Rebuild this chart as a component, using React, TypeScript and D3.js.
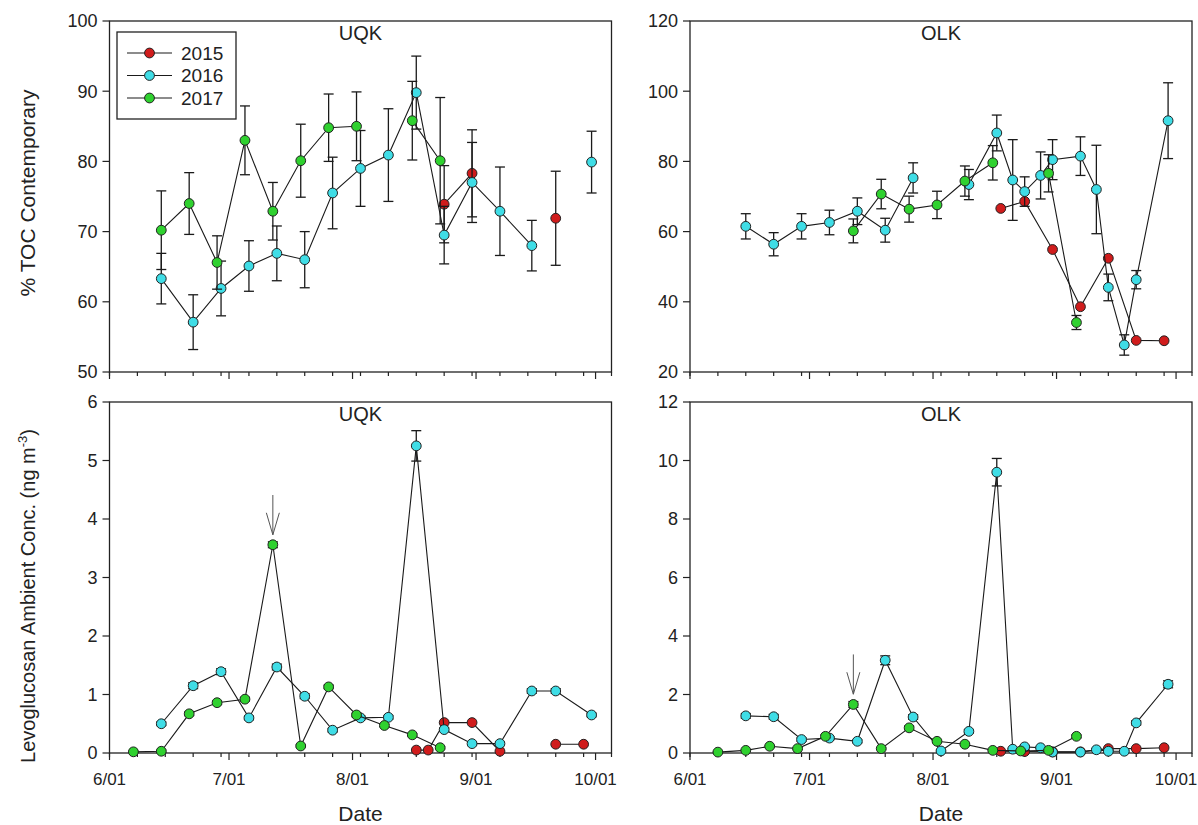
import React, { useEffect, useRef } from 'react';
import * as d3 from 'd3';

// values; dates are month/day of each sample, null = no sample
const years = ['2015', '2016', '2017'];
const monthTicks = ['6/01', '7/01', '8/01', '9/01', '10/01'];
const tocTicksUQK = [50, 60, 70, 80, 90, 100];
const tocTicksOLK = [20, 40, 60, 80, 100, 120];
const levoTicksUQK = [0, 1, 2, 3, 4, 5, 6];
const levoTicksOLK = [0, 2, 4, 6, 8, 10, 12];

// ---- UQK ----
const uqkDates2015 = ['8/17', '8/20', '8/24', '8/31', '9/07', '9/14', '9/21', '9/28'];
const uqkToc2015 = [null, null, 73.9, 78.3, null, null, 71.9, null];
const uqkTocErr2015 = [null, null, 5.5, 6.2, null, null, 6.7, null];
const uqkLevo2015 = [0.05, 0.05, 0.52, 0.52, 0.03, null, 0.15, 0.15];

const uqkDates2016 = ['6/14', '6/22', '6/29', '7/06', '7/13', '7/20', '7/27', '8/03', '8/10', '8/17', '8/24', '8/31', '9/07', '9/15', '9/21', '9/30'];
const uqkToc2016 = [63.3, 57.1, 61.9, 65.1, 66.9, 66.0, 75.5, 79.0, 80.9, 89.8, 69.5, 77.0, 72.9, 68.0, null, 79.9];
const uqkTocErr2016 = [3.6, 3.9, 3.9, 3.6, 3.9, 4.0, 5.1, 5.4, 6.6, 5.2, 4.1, 5.7, 6.3, 3.6, null, 4.4];
const uqkLevo2016 = [0.50, 1.15, 1.39, 0.60, 1.47, 0.97, 0.39, 0.60, 0.61, 5.25, 0.40, 0.16, 0.16, 1.06, 1.06, 0.65];
const uqkLevoErr2016 = [0.03, 0.05, 0.05, 0.03, 0.05, 0.04, 0.03, 0.03, 0.03, 0.26, 0.03, 0.03, 0.03, 0.04, 0.04, 0.03];

const uqkDates2017 = ['6/07', '6/14', '6/21', '6/28', '7/05', '7/12', '7/19', '7/26', '8/02', '8/09', '8/16', '8/23'];
const uqkToc2017 = [null, 70.2, 74.0, 65.6, 83.0, 72.9, 80.1, 84.8, 85.0, null, 85.8, 80.1];
const uqkTocErr2017 = [null, 5.6, 4.4, 3.8, 4.9, 4.1, 5.2, 4.8, 4.9, null, 5.6, 9.0];
const uqkLevo2017 = [0.02, 0.03, 0.67, 0.86, 0.92, 3.56, 0.12, 1.13, 0.65, 0.47, 0.31, 0.09];
const uqkLevoErr2017 = [0.01, 0.02, 0.03, 0.03, 0.03, 0.05, 0.02, 0.03, 0.03, 0.02, 0.02, 0.02];

// ---- OLK ----
const olkDates2015 = ['8/18', '8/24', '8/31', '9/07', '9/14', '9/21', '9/28'];
const olkToc2015 = [66.6, 68.6, 54.9, 38.6, 52.4, 29.0, 28.9];
const olkLevo2015 = [0.06, 0.05, 0.04, 0.04, 0.15, 0.15, 0.18];

const olkDates2016 = ['6/15', '6/22', '6/29', '7/06', '7/13', '7/20', '7/27', '8/03', '8/10', '8/17', '8/21', '8/24', '8/28', '8/31', '9/07', '9/11', '9/14', '9/18', '9/21', '9/29'];
const olkToc2016 = [61.5, 56.4, 61.5, 62.6, 65.8, 60.4, 75.3, null, 73.4, 88.1, 74.7, 71.4, 76.0, 80.5, 81.5, 72.0, 44.1, 27.7, 46.3, 91.6];
const olkTocErr2016 = [3.6, 3.3, 3.6, 3.5, 3.8, 3.4, 4.3, null, 4.3, 5.1, 11.5, 4.2, 6.7, 5.7, 5.5, 12.6, 3.8, 2.9, 2.6, 10.8];
const olkLevo2016 = [1.27, 1.24, 0.46, 0.51, 0.40, 3.17, 1.23, 0.07, 0.74, 9.60, 0.13, 0.21, 0.18, 0.03, 0.03, 0.11, 0.06, 0.06, 1.03, 2.35];
const olkLevoErr2016 = [0.08, 0.08, 0.06, 0.05, 0.05, 0.15, 0.08, 0.03, 0.06, 0.47, 0.03, 0.04, 0.03, 0.02, 0.02, 0.03, 0.02, 0.02, 0.07, 0.12];

const olkDates2017 = ['6/08', '6/15', '6/21', '6/28', '7/05', '7/12', '7/19', '7/26', '8/02', '8/09', '8/16', '8/23', '8/30', '9/06'];
const olkToc2017 = [null, null, null, null, null, 60.2, 70.7, 66.4, 67.6, 74.4, 79.6, null, 76.6, 34.1];
const olkTocErr2017 = [null, null, null, null, null, 3.4, 4.2, 3.7, 3.9, 4.3, 4.9, null, 5.3, 2.0];
const olkLevo2017 = [0.03, 0.09, 0.23, 0.15, 0.57, 1.66, 0.15, 0.86, 0.40, 0.30, 0.09, 0.07, 0.09, 0.57];
const olkLevoErr2017 = [0.02, 0.02, 0.03, 0.03, 0.05, 0.10, 0.03, 0.06, 0.04, 0.03, 0.02, 0.02, 0.02, 0.05];

// arrows marking the 2017 smoke event (date, from value, to value)
const arrowDate = '7/12';
const uqkArrow = [4.41, 3.73];
const olkArrow = [3.37, 2.01];

const FONT = '"Liberation Sans", Arial, sans-serif';
const COLORS = { '2015': '#d01c1c', '2016': '#3fdde6', '2017': '#2fd12f' };
const W = 502;
const H = 351;

const parseMD = (s: string) => {
  const [m, d] = s.split('/').map(Number);
  return new Date(2016, m - 1, d);
};

function drawPanel(svg: any, cfg: any) {
  const g = svg.append('g').attr('transform', `translate(${cfg.left},${cfg.top})`);

  const x = d3.scaleTime().domain([parseMD('6/01'), parseMD('10/05')]).range([0, W]);
  const y = d3.scaleLinear().domain([cfg.ticks[0], cfg.ticks[cfg.ticks.length - 1]]).range([H, 0]);

  // x ticks: weekly minor, monthly major
  const weeks = d3.timeDay.range(parseMD('6/01'), parseMD('10/06'), 7);
  g.selectAll('.minor').data(weeks).enter().append('line')
    .attr('x1', (d: Date) => x(d)).attr('x2', (d: Date) => x(d))
    .attr('y1', H).attr('y2', H + 4)
    .attr('stroke', '#222').attr('stroke-width', 1.2);
  const months = monthTicks.map(parseMD);
  g.selectAll('.major').data(months).enter().append('line')
    .attr('x1', (d: Date) => x(d)).attr('x2', (d: Date) => x(d))
    .attr('y1', H).attr('y2', H + 7)
    .attr('stroke', '#222').attr('stroke-width', 1.2);
  if (cfg.xLabels) {
    g.selectAll('.xl').data(monthTicks).enter().append('text')
      .attr('x', (d: string) => x(parseMD(d))).attr('y', H + 32)
      .attr('text-anchor', 'middle').attr('font-size', 17).attr('fill', '#222')
      .text((d: string) => d);
    g.append('text')
      .attr('x', W / 2).attr('y', H + 68)
      .attr('text-anchor', 'middle').attr('font-size', 21).attr('fill', '#222')
      .text('Date');
  }

  // y ticks
  cfg.ticks.forEach((t: number) => {
    g.append('line').attr('x1', -7).attr('x2', 0).attr('y1', y(t)).attr('y2', y(t))
      .attr('stroke', '#222').attr('stroke-width', 1.2);
    g.append('text').attr('x', -12).attr('y', y(t)).attr('dy', '0.36em')
      .attr('text-anchor', 'end').attr('font-size', 18).attr('fill', '#222')
      .text(t);
  });

  // frame
  g.append('rect').attr('width', W).attr('height', H)
    .attr('fill', 'none').attr('stroke', '#222').attr('stroke-width', 1.3);

  g.append('text').attr('x', W / 2).attr('y', 19)
    .attr('text-anchor', 'middle').attr('font-size', 20).attr('fill', '#222')
    .text(cfg.title);

  // series: line, error bars, symbols
  cfg.series.forEach((s: any) => {
    const pts = s.dates.map((d: string, k: number) => ({
      x: x(parseMD(d)),
      v: s.values[k],
      e: s.errs ? s.errs[k] : null,
    }));
    const line = d3.line<any>()
      .defined((p) => p.v != null)
      .x((p) => p.x).y((p) => y(p.v));
    g.append('path').datum(pts).attr('d', line)
      .attr('fill', 'none').attr('stroke', '#1a1a1a').attr('stroke-width', 1.1);

    const withErr = pts.filter((p: any) => p.v != null && p.e != null);
    withErr.forEach((p: any) => {
      const y0 = y(p.v - p.e), y1 = y(p.v + p.e);
      g.append('line').attr('x1', p.x).attr('x2', p.x).attr('y1', y0).attr('y2', y1)
        .attr('stroke', '#1a1a1a').attr('stroke-width', 1.3);
      [y0, y1].forEach((yy) => {
        g.append('line').attr('x1', p.x - 5).attr('x2', p.x + 5).attr('y1', yy).attr('y2', yy)
          .attr('stroke', '#1a1a1a').attr('stroke-width', 1.3);
      });
    });

    g.selectAll(null).data(pts.filter((p: any) => p.v != null)).enter().append('circle')
      .attr('cx', (p: any) => p.x).attr('cy', (p: any) => y(p.v)).attr('r', 4.9)
      .attr('fill', COLORS[s.year as keyof typeof COLORS])
      .attr('stroke', '#222').attr('stroke-width', 1);
  });

  // arrow annotation
  if (cfg.arrow) {
    const ax = x(parseMD(arrowDate));
    const yTop = y(cfg.arrow[0]), yTip = y(cfg.arrow[1]);
    g.append('line').attr('x1', ax).attr('x2', ax).attr('y1', yTop).attr('y2', yTip)
      .attr('stroke', '#555').attr('stroke-width', 1);
    g.append('path')
      .attr('d', `M${ax - 6.5},${yTip - 22}L${ax},${yTip}L${ax + 6.5},${yTip - 22}`)
      .attr('fill', 'none').attr('stroke', '#555').attr('stroke-width', 1);
  }

  // legend
  if (cfg.legend) {
    const lg = svg.append('g').attr('transform', 'translate(117,32)');
    lg.append('rect').attr('width', 119).attr('height', 87)
      .attr('fill', 'white').attr('stroke', '#222').attr('stroke-width', 1.3);
    years.forEach((yr, i) => {
      const ly = 21 + i * 22.5;
      lg.append('line').attr('x1', 10).attr('x2', 55).attr('y1', ly).attr('y2', ly)
        .attr('stroke', '#1a1a1a').attr('stroke-width', 1.1);
      lg.append('circle').attr('cx', 32.5).attr('cy', ly).attr('r', 4.9)
        .attr('fill', COLORS[yr as keyof typeof COLORS]).attr('stroke', '#222');
      lg.append('text').attr('x', 64).attr('y', ly).attr('dy', '0.36em')
        .attr('font-size', 19).attr('fill', '#222').text(yr);
    });
  }
}

export default function App() {
  const ref = useRef<SVGSVGElement>(null);

  useEffect(() => {
    const svg = d3.select(ref.current);
    svg.selectAll('*').remove();

    drawPanel(svg, {
      left: 109.5, top: 21, title: 'UQK', ticks: tocTicksUQK, legend: true,
      series: [
        { year: '2015', dates: uqkDates2015, values: uqkToc2015, errs: uqkTocErr2015 },
        { year: '2016', dates: uqkDates2016, values: uqkToc2016, errs: uqkTocErr2016 },
        { year: '2017', dates: uqkDates2017, values: uqkToc2017, errs: uqkTocErr2017 },
      ],
    });
    drawPanel(svg, {
      left: 690, top: 21, title: 'OLK', ticks: tocTicksOLK,
      series: [
        { year: '2015', dates: olkDates2015, values: olkToc2015 },
        { year: '2016', dates: olkDates2016, values: olkToc2016, errs: olkTocErr2016 },
        { year: '2017', dates: olkDates2017, values: olkToc2017, errs: olkTocErr2017 },
      ],
    });
    drawPanel(svg, {
      left: 109.5, top: 402, title: 'UQK', ticks: levoTicksUQK, xLabels: true, arrow: uqkArrow,
      series: [
        { year: '2015', dates: uqkDates2015, values: uqkLevo2015 },
        { year: '2016', dates: uqkDates2016, values: uqkLevo2016, errs: uqkLevoErr2016 },
        { year: '2017', dates: uqkDates2017, values: uqkLevo2017, errs: uqkLevoErr2017 },
      ],
    });
    drawPanel(svg, {
      left: 690, top: 402, title: 'OLK', ticks: levoTicksOLK, xLabels: true, arrow: olkArrow,
      series: [
        { year: '2015', dates: olkDates2015, values: olkLevo2015 },
        { year: '2016', dates: olkDates2016, values: olkLevo2016, errs: olkLevoErr2016 },
        { year: '2017', dates: olkDates2017, values: olkLevo2017, errs: olkLevoErr2017 },
      ],
    });

    // y axis titles
    svg.append('text')
      .attr('transform', 'translate(35,193) rotate(-90)')
      .attr('text-anchor', 'middle').attr('font-size', 21).attr('fill', '#222')
      .text('% TOC Contemporary');
    const t2 = svg.append('text')
      .attr('transform', 'translate(35,596) rotate(-90)')
      .attr('text-anchor', 'middle').attr('font-size', 20).attr('fill', '#222');
    t2.append('tspan').text('Levoglucosan Ambient Conc. (ng m');
    t2.append('tspan').attr('dy', -8).attr('font-size', 13).text('-3');
    t2.append('tspan').attr('dy', 8).text(')');
  }, []);

  return (
    <svg
      ref={ref}
      width={1198}
      height={825}
      style={{ position: 'absolute', left: 0, top: 0, background: 'white', fontFamily: FONT }}
    />
  );
}
